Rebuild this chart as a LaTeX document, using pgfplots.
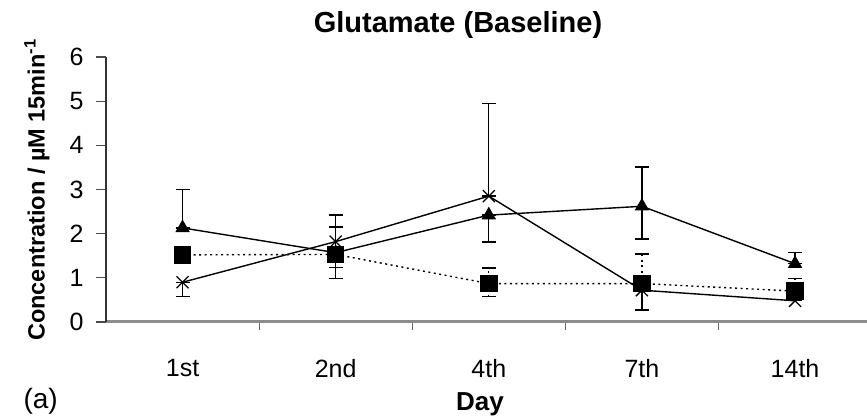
\documentclass[border=0pt]{standalone}
\usepackage{pgfplots}
\pgfplotsset{compat=1.18}
\usepackage{fontspec}
\setmainfont{Liberation Sans}
\begin{document}
\begin{tikzpicture}[x=1pt,y=1pt]
\useasboundingbox (0,0) rectangle (867,420);
\begin{axis}[
  at={(106pt,98pt)}, anchor=south west,
  width=761pt, height=265pt, scale only axis,
  xmin=-0.5, xmax=4.47, ymin=0, ymax=6,
  axis x line*=bottom, axis y line*=left,
  x axis line style={black!45, line width=3pt, -},
  y axis line style={black!80, line width=1.3pt, -},
  xtick={0,1,2,3,4}, xticklabels={1st,2nd,4th,7th,14th},
  minor xtick={0.5,1.5,2.5,3.5},
  ytick={0,1,2,3,4,5,6},
  tick align=outside,
  major tick length=10pt, minor tick length=8pt,
  major x tick style={draw=none},
  minor x tick style={black!60, line width=1pt},
  major y tick style={black!70, line width=1.2pt},
  /pgf/number format/assume math mode=true,
  tick label style={font=\fontsize{25}{25}\selectfont},
  xticklabel style={yshift=-24pt},
  yticklabel style={xshift=-9pt},
  clip=false,
  error bars/y dir=both, error bars/y explicit,
  error bars/error bar style={line width=1.3pt, black},
  error bars/error mark options={rotate=90, mark size=7pt, line width=1.3pt, black},
]
% X series
\addplot[black, line width=1.4pt, mark=x, mark size=8.5pt, mark options={line width=1.3pt}]
 coordinates {
 (0,0.90) += (0,0) -= (0,0.32)
 (1,1.82) += (0,0.60) -= (0,0.58)
 (2,2.85) += (0,2.10) -= (0,0)
 (3,0.72) += (0,0) -= (0,0.45)
 (4,0.48) += (0,0) -= (0,0)
 };
% triangle series
\addplot[black, line width=1.4pt, mark=triangle*, mark size=7pt, mark options={solid}]
 coordinates {
 (0,2.13) += (0,0.87) -= (0,0)
 (1,1.57) += (0,0.58) -= (0,0.59)
 (2,2.42) += (0,0) -= (0,0.61)
 (3,2.62) += (0,0.89) -= (0,0.74)
 (4,1.32) += (0,0.26) -= (0,0)
 };
% square series
\addplot[black, line width=1.4pt, dash pattern=on 2pt off 3.5pt, mark=square*, mark size=8pt, mark options={solid}]
 coordinates {
 (0,1.52) += (0,0) -= (0,0)
 (1,1.53) += (0,0) -= (0,0)
 (2,0.87) += (0,0.35) -= (0,0.30)
 (3,0.87) += (0,0.67) -= (0,0)
 (4,0.70) += (0,0.29) -= (0,0)
 };
\end{axis}
\node[font=\bfseries\fontsize{29}{29}\selectfont] at (458,395) {Glutamate (Baseline)};
\node[font=\bfseries\fontsize{23.5}{23.5}\selectfont, rotate=90] at (37,230) {Concentration / µM 15min\textsuperscript{-1}};
\node[font=\bfseries\fontsize{26}{26}\selectfont] at (480,16) {Day};
\node[font=\fontsize{28}{28}\selectfont, anchor=west] at (20,19) {(a)};
\end{tikzpicture}
\end{document}
